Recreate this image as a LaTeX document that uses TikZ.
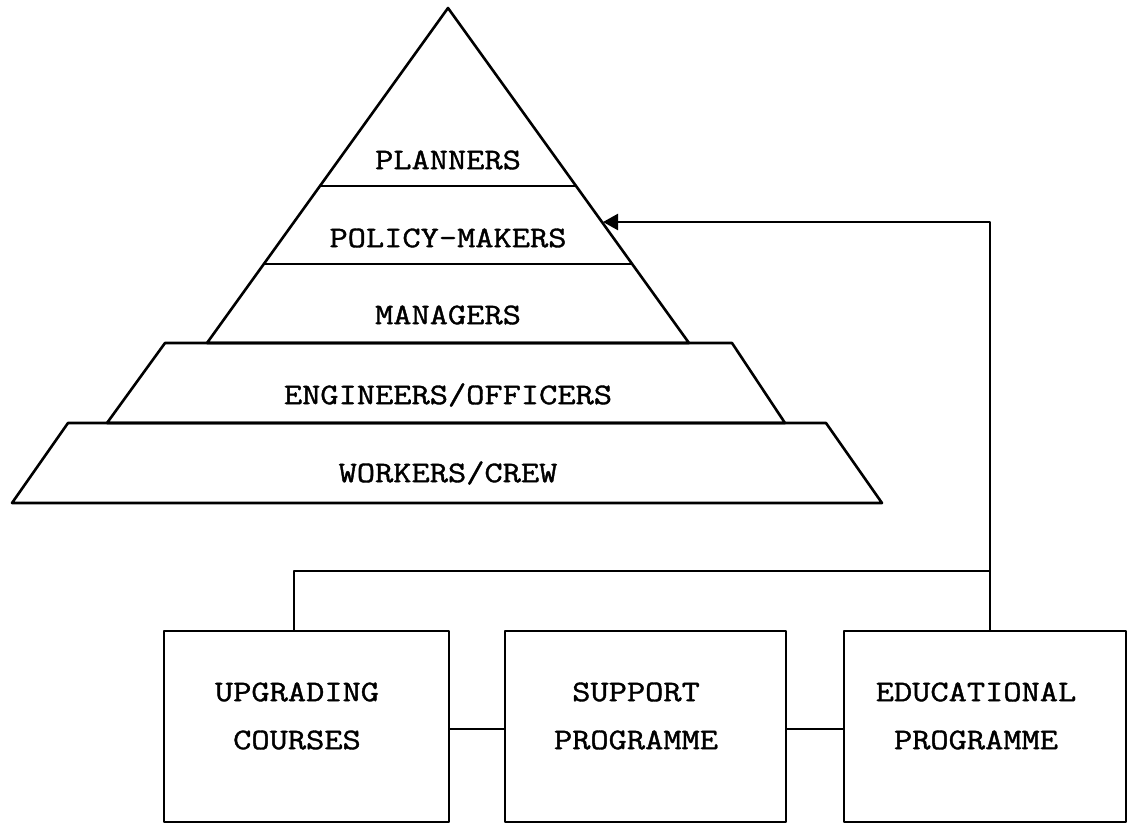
\documentclass[tikz,border=0pt]{standalone}
\usepackage{fontspec}
\setmonofont[FakeBold=1.2]{Latin Modern Mono}
\usetikzlibrary{arrows.meta}
\newcommand\stretchtxt[1]{\scalebox{1.18}[1]{#1}}
\begin{document}
\begin{tikzpicture}[x=1pt,y=-1pt, line width=2.6pt, line join=round,
  lbl/.style={font=\fontsize{30}{48}\selectfont\ttfamily\bfseries, inner sep=0pt, align=center},
  box/.style={draw, inner sep=0pt, minimum height=191pt},
  conn/.style={line width=2.4pt}]
\useasboundingbox (0,0) rectangle (1128,826);
% pyramid
\coordinate (apex) at (448,8);
\coordinate (mbl) at (207,343);
\coordinate (mbr) at (689,343);
\draw (apex) -- (mbl) -- (mbr) -- cycle;
\coordinate (pl1) at (320,186); \coordinate (pr1) at (576,186);
\coordinate (pl2) at (264,264); \coordinate (pr2) at (632,264);
\draw (pl1) -- (pr1);
\draw (pl2) -- (pr2);
\coordinate (etl) at (165,343); \coordinate (etr) at (732,343);
\coordinate (ebr) at (785,423); \coordinate (ebl) at (107,423);
\draw (etl) -- (etr) -- (ebr) -- (ebl) -- cycle;
\coordinate (wtl) at (68,423); \coordinate (wtr) at (826,423);
\coordinate (wbr) at (882,503); \coordinate (wbl) at (12,503);
\draw (wtl) -- (wtr) -- (wbr) -- (wbl) -- cycle;
\node[lbl] (planners) at (448,160) {\stretchtxt{PLANNERS}};
\node[lbl] (policy) at (448,238) {\stretchtxt{POLICY-MAKERS}};
\node[lbl] (managers) at (448,315) {\stretchtxt{MANAGERS}};
\node[lbl] (engineers) at (448,395) {\stretchtxt{ENGINEERS/OFFICERS}};
\node[lbl] (workers) at (448,473) {\stretchtxt{WORKERS/CREW}};
\coordinate (pm) at (603,222);
% boxes
\node[box, minimum width=285pt] (up) at (306.5,726.5) {};
\node[box, minimum width=281pt] (sup) at (645.5,726.5) {};
\node[box, minimum width=282pt] (edu) at (985,726.5) {};
\node[lbl] (uptxt) at (297,716) {\stretchtxt{UPGRADING}\\\stretchtxt{COURSES}};
\node[lbl] (suptxt) at (636,716) {\stretchtxt{SUPPORT}\\\stretchtxt{PROGRAMME}};
\node[lbl] (edutxt) at (976,716) {\stretchtxt{EDUCATIONAL}\\\stretchtxt{PROGRAMME}};
% connectors
\coordinate (jn) at (990,571);
\draw[conn, -{Triangle[length=15pt,width=16pt]}] ([xshift=5pt]edu.north) |- (pm);
\draw[conn] ([xshift=-12.5pt]up.north) |- (jn);
\draw[conn] ([yshift=-2.5pt]up.east) -- ([yshift=-2.5pt]sup.west);
\draw[conn] ([yshift=-2.5pt]sup.east) -- ([yshift=-2.5pt]edu.west);
\end{tikzpicture}
\end{document}
